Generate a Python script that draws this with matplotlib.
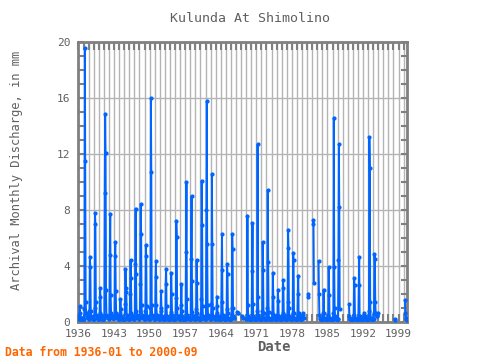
import numpy as np
import matplotlib
matplotlib.use("Agg")
import matplotlib.pyplot as plt
from matplotlib.ticker import MultipleLocator

# monthly discharge (mm), one row per year Jan..Dec, None = no data
n = None
flow_1930s = [  # 1936-1939
    [0.2, 0.2, 0.4, 1.1, 0.6, 0.3, 0.2, 0.2, 0.2, 0.3, 0.2, 0.2],
    [0.2, 0.2, 0.9, 19.6, 11.5, 1.4, 0.6, 0.5, 0.4, 0.4, 0.3, 0.3],
    [0.2, 0.2, 0.8, 4.6, 3.9, 0.8, 0.4, 0.3, 0.3, 0.3, 0.2, 0.2],
    [0.2, 0.2, 1.0, 7.8, 7.0, 1.4, 0.5, 0.4, 0.3, 0.3, 0.2, 0.2],
]
flow_1940s = [
    [0.2, 0.2, 0.6, 2.4, 1.8, 0.5, 0.3, 0.2, 0.2, 0.3, 0.2, 0.2],
    [0.2, 0.3, 9.2, 14.9, 12.1, 2.3, 0.5, 0.4, 0.4, 0.3, 0.3, 0.2],
    [0.3, 0.3, 4.8, 7.7, 1.9, 0.6, 0.4, 0.3, 0.3, 0.3, 0.3, 0.3],
    [0.3, 0.3, 4.7, 5.7, 2.2, 0.6, 0.4, 0.3, 0.3, 0.3, 0.2, 0.2],
    [0.2, 0.2, 0.6, 1.6, 0.9, 0.4, 0.3, 0.2, 0.2, 0.2, 0.2, 0.2],
    [0.2, 0.2, 1.3, 3.75, 2.4, 2.1, 0.5, 0.3, 0.3, 0.3, 0.2, 0.2],
    [0.2, 0.2, 2.0, 4.4, 3.1, 0.6, 0.4, 0.3, 0.3, 0.3, 0.2, 0.2],
    [0.2, 0.3, 4.1, 8.1, 3.4, 0.8, 0.5, 0.4, 0.3, 0.3, 0.3, 0.2],
    [0.2, 0.3, 2.7, 8.4, 6.3, 1.2, 0.5, 0.4, 0.3, 0.3, 0.3, 0.2],
    [0.2, 0.2, 0.8, 5.5, 4.7, 1.1, 0.4, 0.3, 0.3, 0.3, 0.2, 0.2],
]
flow_1950s = [
    [0.2, 0.3, 1.0, 16.0, 10.7, 1.2, 0.5, 0.4, 0.3, 0.3, 0.3, 0.2],
    [0.2, 0.2, 3.2, 4.35, 1.2, 0.5, 0.3, 0.3, 0.3, 0.3, 0.2, 0.2],
    [0.2, 0.2, 0.8, 2.2, 1.0, 0.4, 0.3, 0.2, 0.2, 0.2, 0.2, 0.2],
    [0.2, 0.2, 2.7, 3.75, 1.1, 0.4, 0.3, 0.2, 0.2, 0.2, 0.2, 0.2],
    [0.2, 0.2, 0.7, 3.5, 2.0, 0.5, 0.3, 0.2, 0.2, 0.2, 0.2, 0.2],
    [0.2, 0.2, 1.7, 7.2, 6.1, 1.0, 0.4, 0.3, 0.3, 0.3, 0.2, 0.2],
    [0.2, 0.2, 1.2, 2.7, 0.8, 0.4, 0.3, 0.2, 0.2, 0.2, 0.2, 0.2],
    [0.2, 0.2, 5.0, 10.0, 1.6, 0.5, 0.3, 0.3, 0.3, 0.3, 0.2, 0.2],
    [0.2, 0.2, 4.5, 9.0, 2.9, 0.7, 0.4, 0.3, 0.3, 0.3, 0.2, 0.2],
    [0.2, 0.2, 0.9, 4.4, 2.8, 0.6, 0.3, 0.3, 0.2, 0.2, 0.2, 0.2],
]
flow_1960s = [
    [0.2, 0.2, 1.6, 10.1, 6.9, 1.1, 0.4, 0.3, 0.3, 0.3, 0.2, 0.2],
    [0.2, 0.3, 8.0, 15.8, 5.6, 1.2, 0.5, 0.4, 0.3, 0.3, 0.3, 0.2],
    [0.2, 0.2, 1.3, 10.6, 5.6, 1.0, 0.4, 0.3, 0.3, 0.3, 0.2, 0.2],
    [0.2, 0.2, 0.6, 1.8, 1.1, 0.4, 0.3, 0.2, 0.2, 0.2, 0.2, 0.2],
    [0.2, 0.2, 3.7, 6.3, 1.4, 0.5, 0.3, 0.3, 0.2, 0.2, 0.2, 0.2],
    [0.2, 0.2, 0.9, 4.1, 3.4, 0.6, 0.3, 0.2, 0.2, 0.2, 0.2, 0.2],
    [0.2, 0.2, 1.0, 6.3, 5.2, 1.0, 0.4, 0.3, 0.3, n, n, n],
    [n, n, n, 0.7, 0.6, 0.6, n, n, n, n, n, n],
    [n, n, n, 0.4, 0.3, 0.3, n, n, n, n, n, n],
    [0.2, 0.2, 0.3, 7.6, 1.2, 0.4, 0.3, 0.2, 0.2, 0.2, 0.2, 0.2],
]
flow_1970s = [
    [0.2, 0.2, 3.6, 7.05, 1.3, 0.4, 0.3, 0.2, 0.2, 0.2, 0.2, 0.2],
    [0.2, 0.2, 0.8, 12.7, 1.8, 0.5, 0.3, 0.2, 0.2, 0.2, 0.2, 0.2],
    [0.2, 0.2, 0.8, 5.7, 3.7, 0.6, 0.3, 0.2, 0.2, 0.2, 0.2, 0.2],
    [0.2, 0.2, 1.0, 9.4, 4.3, 0.7, 0.3, 0.2, 0.2, 0.2, 0.2, 0.2],
    [0.2, 0.2, 0.6, 3.5, 1.8, 0.5, 0.3, 0.2, 0.2, 0.2, 0.2, 0.2],
    [0.2, 0.2, 0.5, 2.3, 1.5, 0.4, 0.3, 0.2, 0.2, 0.2, 0.2, 0.2],
    [0.2, 0.2, 0.6, 3.0, 2.4, 0.5, 0.3, 0.2, 0.2, 0.2, 0.2, 0.2],
    [0.2, 0.2, 1.4, 6.6, 5.3, 1.0, 0.4, 0.3, 0.2, 0.2, 0.2, 0.2],
    [0.2, 0.2, 0.6, 4.9, 4.4, 0.6, 0.3, 0.2, 0.2, 0.2, 0.2, 0.2],
    [0.2, 0.2, 2.0, 3.3, 0.6, 0.4, 0.3, 0.2, 0.2, 0.2, 0.2, 0.2],
]
flow_1980s = [
    [0.3, 0.4, 0.6, 0.5, 0.3, n, n, n, n, n, n, n],
    [n, n, 1.8, 2.0, n, n, n, n, n, n, n, n],
    [n, n, 7.0, 7.3, 2.8, n, n, n, n, n, n, n],
    [n, n, n, 4.35, 2.0, 0.5, 0.3, 0.2, 0.2, 0.2, 0.2, 0.2],
    [0.2, 0.2, 0.6, 2.3, 0.6, 0.3, 0.2, 0.2, 0.2, 0.2, 0.2, 0.2],
    [0.2, 0.2, 0.5, 3.9, 1.9, 0.3, 0.2, 0.2, 0.2, 0.2, 0.2, 0.2],
    [0.2, 0.2, 0.6, 14.6, 3.9, 1.0, 0.4, 0.3, 0.2, 0.2, 0.2, 0.2],
    [0.2, 0.2, 4.4, 12.7, 8.2, 0.9, n, n, n, n, n, n],
    [n, n, n, n, n, n, n, n, n, n, n, n],
    [n, n, n, 1.25, 0.4, 0.2, 0.2, 0.2, 0.2, 0.2, 0.2, 0.2],
]
flow_1990s = [
    [0.2, 0.2, 0.5, 3.1, 2.6, 0.3, 0.2, 0.2, 0.2, 0.2, 0.2, 0.2],
    [0.2, 0.2, 2.6, 4.65, 0.4, 0.2, 0.2, 0.2, 0.2, 0.2, 0.2, 0.2],
    [0.2, 0.2, 0.4, 0.6, 0.4, 0.2, 0.2, 0.2, 0.2, 0.2, 0.2, 0.2],
    [0.2, 0.2, 0.8, 13.2, 11.0, 1.4, 0.3, 0.2, 0.2, 0.2, 0.2, 0.2],
    [0.2, 0.2, 0.6, 4.85, 4.5, 1.4, 0.6, 0.5, 0.4, 0.4, 0.5, 0.6],
    [n, n, n, n, n, n, n, n, n, n, n, n],
    [n, n, n, n, n, n, n, n, n, n, n, n],
    [n, n, n, n, n, n, n, n, n, n, n, n],
    [n, n, n, 0.2, 0.1, n, n, n, n, n, n, n],
    [n, n, n, n, n, n, n, n, n, n, n, n],
]
flow_2000s = [
    [n, n, n, 1.55, 0.6, 0.3, 0.2, 0.2, 0.1],
]

values = []
for block in [flow_1930s, flow_1940s, flow_1950s, flow_1960s,
              flow_1970s, flow_1980s, flow_1990s, flow_2000s]:
    for row in block:
        values.extend(row)
values = np.array(values, dtype=float)
dates = 1936 + np.arange(len(values)) / 12.0

grey = '#808080'
txt = '#606060'
plt.rcParams['font.family'] = 'DejaVu Sans Mono'

fig = plt.figure(figsize=(4.8, 3.6), dpi=100)
ax = fig.add_axes([0.1635, 0.1064, 0.848 - 0.1635, 0.882 - 0.1064])

ax.plot(dates, values, color='#0064ff', lw=1.4, marker='o', ms=2.0,
        mec='#0064ff', mfc='#0064ff', zorder=3)

ax.set_xlim(1936.0, 2000 + 8 / 12)
ax.set_ylim(0, 20)
ax.set_xticks(np.arange(1936, 2000, 7))
ax.xaxis.set_minor_locator(MultipleLocator(1))
ax.set_yticks(np.arange(0, 21, 4))
ax.yaxis.set_minor_locator(MultipleLocator(1))

ax.grid(True, which='both', axis='x', color='#b4b4b4', lw=1.0)
ax.grid(True, which='major', axis='y', color='#b4b4b4', lw=1.0)
ax.set_axisbelow(True)

ax.tick_params(axis='both', which='both', direction='in', top=True,
               right=True, color=grey, width=1.5, labelcolor=txt,
               labelsize=8)
ax.tick_params(axis='x', which='both', length=5.5, pad=5)
ax.tick_params(axis='y', which='both', length=4, pad=6)
for s in ax.spines.values():
    s.set_color(grey)
    s.set_linewidth(2)

fig.text(250 / 480, 1 - 18 / 360, 'Kulunda At Shimolino', ha='center',
         va='center', fontsize=9.5, color=txt)
fig.text(17 / 480, 1 - 170 / 360, 'Archival Monthly Discharge, in mm',
         rotation=90, ha='center', va='center', fontsize=8.7, color=txt)
fig.text(274 / 480, 1 - 347 / 360, 'Date', ha='center', va='center',
         fontsize=10, color=txt, fontweight='bold')
fig.text(5 / 480, 1 - 352 / 360, 'Data from 1936-01 to 2000-09',
         ha='left', va='center', fontsize=8.3, color='#ff6600',
         fontweight='bold')

fig.savefig('out.png', dpi=100)
